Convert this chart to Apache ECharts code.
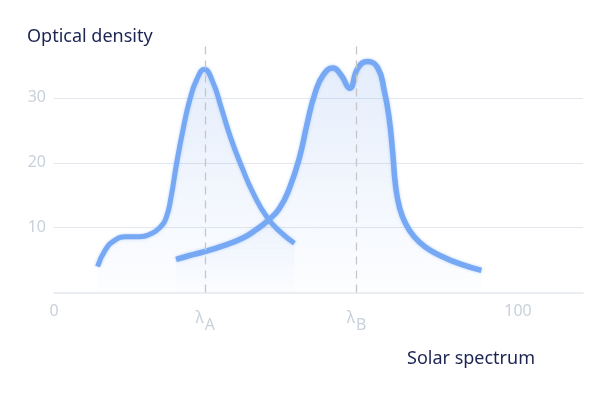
<!DOCTYPE html>
<html>
<head>
<meta charset="utf-8">
<script src="https://cdn.jsdelivr.net/npm/echarts@6/dist/echarts.min.js"></script>
<style>html,body{margin:0;padding:0;background:#fff}#c{width:600px;height:400px}</style>
</head>
<body>
<div id="c"></div>
<script>
// Series A (left curve): [wavelength, optical density]
var seriesA = [
  [9.4,4.0],[11.0,6.5],[13.0,8.0],[15.5,8.6],[18.5,8.6],[21.0,9.1],[22.8,10.0],
  [24.2,11.6],[25.2,14.6],[26.4,19.8],[27.8,25.1],[29.3,29.8],[30.8,32.9],
  [32.4,34.4],[34.2,32.5],[36.0,28.6],[38.0,24.0],[40.5,19.3],[43.0,15.2],
  [46.0,11.5],[49.0,9.2],[51.8,7.6]
];
// Series B (right curve)
var seriesB = [
  [26.3,5.1],[29.2,5.7],[32.4,6.3],[36.4,7.2],[40.7,8.4],[43.6,9.7],[46.1,11.1],
  [48.6,13.0],[50.8,16.2],[52.9,20.8],[54.6,26.2],[56.2,30.6],[58.0,33.5],
  [60.1,34.6],[61.9,33.5],[63.7,31.5],[65.5,34.6],[67.6,35.6],[69.8,34.6],
  [71.2,31.0],[72.2,27.0],[73.0,21.5],[73.6,16.5],[74.5,13.0],[75.8,10.6],
  [77.5,8.7],[80.0,7.0],[83.5,5.6],[87.5,4.4],[92.1,3.4]
];
var lambdaA = 32.6;
var lambdaB = 65.2;
var xTickValues = [0, lambdaA, lambdaB, 100];
var xTickLabels = ['0', '{l|λ}{s|A}', '{l|λ}{s|B}', '100'];
var yName = 'Optical density';
var xName = 'Solar spectrum';

var FONT = 'Noto Sans';
var lineColor = '#77a8f4';
var labelColor = '#c9d1dc';

function areaStyle() {
  return {
    color: new echarts.graphic.LinearGradient(0, 0, 0, 1, [
      {offset: 0, color: 'rgba(120,165,240,0.28)'},
      {offset: 1, color: 'rgba(120,165,240,0.02)'}
    ])
  };
}

var chart = echarts.init(document.getElementById('c'), null, {renderer: 'canvas'});
chart.setOption({
  animation: false,
  title: [
    {text: yName, left: 22, top: 23, textStyle: {fontFamily: FONT, fontSize: 18, fontWeight: 'normal', color: '#1c2452'}},
    {text: xName, left: 402, top: 345, textStyle: {fontFamily: FONT, fontSize: 18, fontWeight: 'normal', color: '#1c2452'}}
  ],
  grid: {left: 54, right: 17, top: 46, bottom: 107.5},
  xAxis: {
    type: 'value', min: 0, max: 114,
    axisLine: {show: true, lineStyle: {color: '#e3e7ee', width: 1.5}},
    axisTick: {show: false},
    splitLine: {show: false},
    axisLabel: {
      customValues: xTickValues,
      margin: 11,
      color: labelColor,
      fontFamily: FONT,
      fontSize: 16,
      formatter: function (v) {
        var i = xTickValues.indexOf(v);
        return i >= 0 ? xTickLabels[i] : '';
      },
      rich: {
        l: {fontFamily: FONT, fontSize: 16, color: labelColor},
        s: {fontFamily: FONT, fontSize: 16, color: labelColor, padding: [14, 0, 0, 1]}
      }
    }
  },
  yAxis: {
    type: 'value', min: 0, max: 38, interval: 10,
    axisLine: {show: false},
    axisTick: {show: false},
    splitLine: {show: true, showMinLine: false, showMaxLine: false, lineStyle: {color: '#e3e7ee', width: 1}},
    axisLabel: {
      showMinLabel: false, showMaxLabel: false,
      color: labelColor, fontFamily: FONT, fontSize: 16, margin: 8
    }
  },
  series: [
    {
      type: 'line', data: seriesA, smooth: 0.5, symbol: 'none',
      lineStyle: {color: lineColor, width: 5, shadowColor: 'rgba(116,167,245,0.5)', shadowBlur: 3},
      areaStyle: areaStyle(),
      markLine: {
        silent: true, symbol: 'none', label: {show: false},
        lineStyle: {color: '#c6c6c6', type: [8, 6], width: 1.3},
        data: [{xAxis: lambdaA}, {xAxis: lambdaB}]
      },
      z: 3
    },
    {
      type: 'line', data: seriesB, smooth: 0.5, symbol: 'none',
      lineStyle: {color: lineColor, width: 5.5, shadowColor: 'rgba(116,167,245,0.5)', shadowBlur: 3},
      areaStyle: areaStyle(),
      z: 3
    }
  ]
});
</script>
</body>
</html>
